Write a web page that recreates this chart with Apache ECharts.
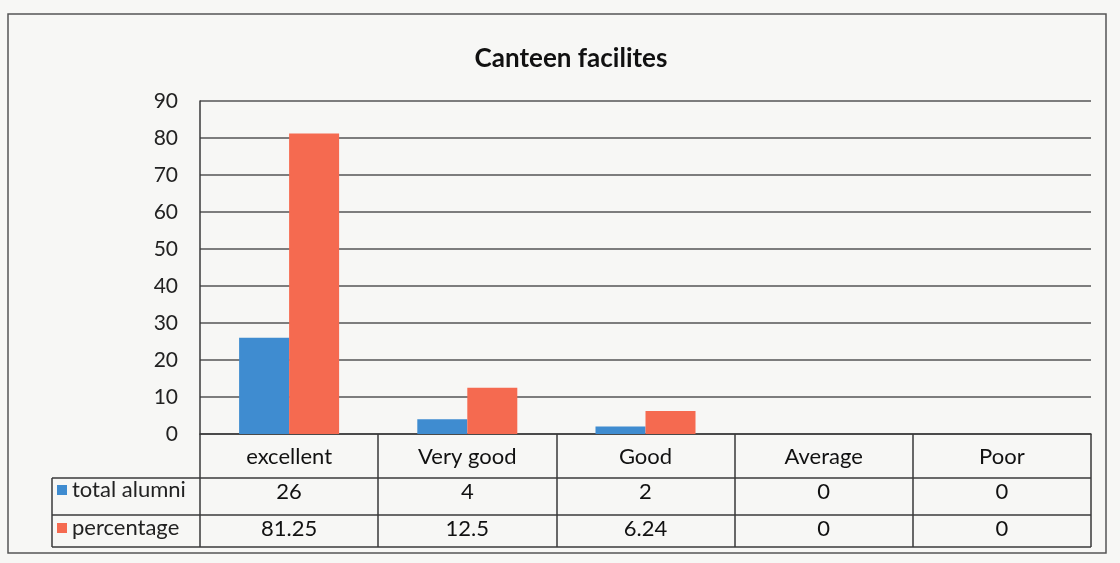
<!DOCTYPE html>
<html>
<head>
<meta charset="utf-8">
<script src="https://cdn.jsdelivr.net/npm/echarts@6/dist/echarts.min.js"></script>
<style>
  html, body { margin: 0; padding: 0; background: #f7f7f5; }
  #chart { width: 1120px; height: 563px; }
</style>
</head>
<body>
<div id="chart"></div>
<script>
const categories = ['excellent', 'Very good', 'Good', 'Average', 'Poor']
const totalAlumni = [26, 4, 2, 0, 0]
const percentage = [81.25, 12.5, 6.24, 0, 0]
const seriesNames = ['total alumni', 'percentage']

// table layout (pixels)
const gridLeft = 200, gridRight = 1091, axisY = 434
const rowLines = [478, 515, 547]
const legendLeft = 52
const lineColor = '#3a3a3a'

let chart = echarts.init(document.getElementById('chart'))

let tableLines = []
rowLines.forEach(y => {
  tableLines.push({
    type: 'line',
    shape: { x1: legendLeft, y1: y, x2: gridRight, y2: y },
    style: { stroke: lineColor, lineWidth: 1.5 }
  })
})
tableLines.push({
  type: 'line',
  shape: { x1: legendLeft, y1: rowLines[0], x2: legendLeft, y2: rowLines[2] },
  style: { stroke: lineColor, lineWidth: 1.5 }
})
// outer frame
tableLines.push({
  type: 'rect',
  shape: { x: 8, y: 14, width: 1098, height: 539 },
  style: { fill: 'none', stroke: '#555', lineWidth: 1.5 }
})

let option = {
  backgroundColor: '#f7f7f5',
  title: {
    text: 'Canteen facilites',
    left: 566,
    textAlign: 'center',
    top: 41,
    textStyle: {
      fontFamily: 'Lato',
      fontWeight: 'bold',
      fontSize: 26,
      color: '#111'
    }
  },
  legend: {
    orient: 'vertical',
    left: 57,
    top: 479,
    padding: 0,
    itemGap: 16,
    itemWidth: 10,
    itemHeight: 10,
    icon: 'rect',
    textStyle: {
      fontFamily: 'Lato',
      fontSize: 22,
      lineHeight: 22,
      color: '#222'
    },
    data: seriesNames
  },
  grid: {
    left: gridLeft,
    right: 1120 - gridRight,
    top: 101,
    bottom: 563 - axisY
  },
  xAxis: {
    type: 'category',
    data: categories,
    axisLine: {
      show: true,
      lineStyle: { color: lineColor, width: 1.5 }
    },
    axisTick: {
      show: true,
      interval: 0,
      length: rowLines[2] - axisY,
      lineStyle: { color: lineColor, width: 1.5 }
    },
    axisLabel: {
      interval: 0,
      margin: 2,
      formatter: function (value, index) {
        return '{h|' + value + '}\n{a|' + totalAlumni[index] + '}\n{b|' + percentage[index] + '}'
      },
      rich: {
        h: { fontFamily: 'Lato', fontSize: 22, color: '#111', lineHeight: 41 },
        a: { fontFamily: 'Lato', fontSize: 22, color: '#111', lineHeight: 30 },
        b: { fontFamily: 'Lato', fontSize: 22, color: '#111', lineHeight: 44 }
      }
    }
  },
  yAxis: {
    type: 'value',
    min: 0,
    max: 90,
    interval: 10,
    axisLine: {
      show: true,
      lineStyle: { color: lineColor, width: 1.5 }
    },
    axisTick: { show: false },
    splitLine: {
      show: true,
      lineStyle: { color: '#555', width: 1.5 }
    },
    axisLabel: {
      margin: 22,
      fontFamily: 'Lato',
      fontSize: 21,
      color: '#222'
    }
  },
  graphic: tableLines,
  series: [
    {
      name: seriesNames[0],
      type: 'bar',
      data: totalAlumni,
      barWidth: 50,
      barGap: '0%',
      itemStyle: {
        color: '#3f8cd0'
      }
    },
    {
      name: seriesNames[1],
      type: 'bar',
      data: percentage,
      barWidth: 50,
      itemStyle: {
        color: '#f56a50'
      }
    }
  ]
}

chart.setOption(option)
window.addEventListener('resize', chart.resize)
</script>
</body>
</html>
